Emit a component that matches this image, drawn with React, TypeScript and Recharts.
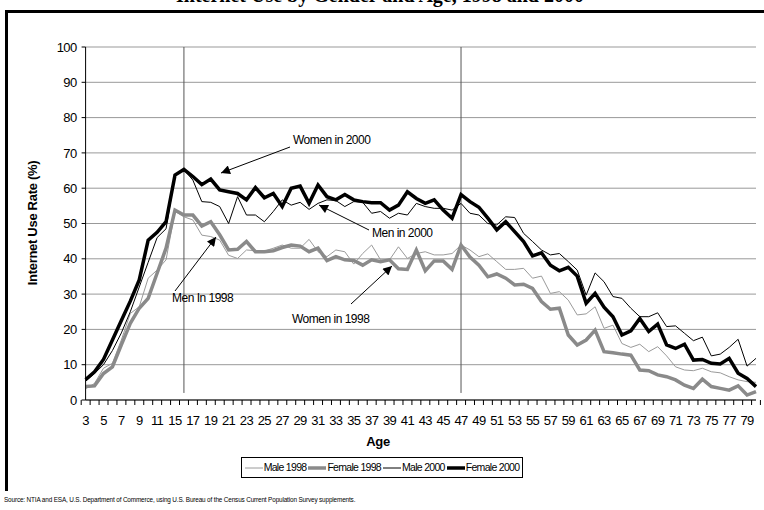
import React from "react";
import {
	LineChart,
	Line,
	XAxis,
	YAxis,
	CartesianGrid,
	ReferenceLine,
} from "recharts";

// category ages (index 9 carries no label on the original axis)
const ages = [
	"3", "4", "5", "6", "7", "8", "9", "10", "11", "13",
	"15", "16", "17", "18", "19", "20", "21", "22", "23", "24",
	"25", "26", "27", "28", "29", "30", "31", "32", "33", "34",
	"35", "36", "37", "38", "39", "40", "41", "42", "43", "44",
	"45", "46", "47", "48", "49", "50", "51", "52", "53", "54",
	"55", "56", "57", "58", "59", "60", "61", "62", "63", "64",
	"65", "66", "67", "68", "69", "70", "71", "72", "73", "74",
	"75", "76", "77", "78", "79", "80",
];

const male1998 = [
	3.2, 4.7, 9, 10.4, 17, 24.5, 26.4, 34.5, 36.8, 39.7,
	53.4, 51.9, 51, 46.7, 46.3, 45.3, 41, 40.1, 42.5, 42.3,
	42.2, 43, 43.9, 43, 43, 45.5, 42, 40.6, 42.5, 42,
	38.5, 41.5, 43.9, 39.7, 39.7, 43.4, 40.1, 41.5, 42, 41.1,
	41.1, 41.5, 43.9, 42.5, 40.6, 41.4, 39.2, 37, 37, 37.3,
	34.5, 35.1, 30.2, 30.7, 28.3, 24.1, 24.4, 26.4, 20.3, 21.2,
	16, 14.9, 15.8, 13.7, 15.1, 12.5, 9.4, 8.5, 8.3, 9,
	8, 7.7, 6.6, 5.7, 5.2, 5,
];

const female1998 = [
	3.8, 4, 7.5, 9.4, 15.6, 21.7, 26, 28.8, 35.9, 43,
	53.8, 52.4, 52.4, 49.3, 50.5, 46.8, 42.5, 42.7, 44.9, 42,
	42, 42.3, 43.2, 43.9, 43.6, 42, 43, 39.5, 40.6, 39.7,
	39.5, 38.2, 39.7, 39.2, 39.7, 37.2, 37, 42.5, 36.6, 39.4,
	39.4, 37, 43.9, 40.5, 38.2, 34.9, 35.7, 34.5, 32.6, 32.8,
	31.6, 27.9, 25.7, 26, 18.4, 15.6, 17, 19.8, 13.7, 13.4,
	13, 12.7, 8.5, 8.3, 7.1, 6.6, 5.7, 4.2, 3.3, 5.9,
	3.8, 3.3, 2.8, 4, 1.4, 2.4,
];

const male2000 = [
	5.3, 7.5, 10, 14, 19, 25, 32, 39, 46, 48.5,
	63.7, 65.2, 62.3, 56.2, 56, 54.8, 50, 57.6, 52.4, 52.4,
	50.5, 53.4, 56.7, 55.2, 56, 54, 55.7, 56.7, 56.5, 54.8,
	56.2, 56, 52.9, 53.4, 51.5, 52.9, 52.4, 55.7, 54.8, 54.3,
	54.3, 53.8, 55.7, 52.9, 52.4, 50, 49.6, 51.9, 51.7, 47.2,
	44.9, 42.5, 41.1, 41.5, 39.2, 36.8, 29.7, 36, 33.5, 29.3,
	28.8, 26, 23.6, 23.6, 24.7, 20.8, 21, 18.9, 16.8, 17.8,
	12.5, 13, 14.9, 17.2, 9.6, 11.8,
];

const female2000 = [
	5.8, 8, 11.5, 17, 22.5, 28, 34, 45.3, 47.5, 50.5,
	63.7, 65.3, 63.3, 61, 62.6, 59.5, 59, 58.5, 56.7, 60.2,
	57.3, 58.5, 54.8, 60, 60.6, 55.7, 60.9, 57.6, 56.7, 58.2,
	56.7, 56.2, 55.9, 55.9, 53.8, 55.2, 59, 57.1, 55.7, 56.7,
	53.8, 51.5, 58.2, 56.2, 54.6, 51.5, 48.2, 50.5, 47.7, 44.9,
	40.8, 41.7, 38.2, 36.6, 37.6, 35.1, 27.4, 30.2, 26.3, 23.6,
	18.4, 19.6, 23.1, 19.4, 21.5, 15.6, 14.6, 15.8, 11.3, 11.5,
	10.4, 10.2, 11.8, 7.6, 6.1, 3.8,
];

const seriesNames = ["Male 1998", "Female 1998", "Male 2000", "Female 2000"];
const seriesKeys = ["m98", "f98", "m00", "f00"];
const seriesColors = ["#9a9a9a", "#8a8a8a", "#000000", "#000000"];
const seriesWidths = [1, 3.5, 1, 3.5];

const yTicks = [0, 10, 20, 30, 40, 50, 60, 70, 80, 90, 100];
const markerAges = ["16", "47"];

const data = ages.map((age, i) => ({
	age,
	m98: male1998[i],
	f98: female1998[i],
	m00: male2000[i],
	f00: female2000[i],
}));

const PLOT_LEFT = 85.6;
const PLOT_RIGHT = 756;
const BAND = (PLOT_RIGHT - PLOT_LEFT) / ages.length;
const FONT = "'Liberation Sans', Arial, sans-serif";

const AgeTick = (props: any) => {
	const { x, y, payload, index } = props;
	const last = index === ages.length - 1;
	return (
		<g>
			<line x1={x - BAND / 2} x2={x - BAND / 2} y1={y} y2={y + 5} stroke="#000" />
			{last && (
				<line x1={x + BAND / 2} x2={x + BAND / 2} y1={y} y2={y + 5} stroke="#000" />
			)}
			{index % 2 === 0 && (
				<text
					x={x}
					y={y + 25}
					textAnchor="middle"
					fontSize={13}
					letterSpacing={-0.6}
					fill="#000"
					fontFamily={FONT}
				>
					{payload.value}
				</text>
			)}
		</g>
	);
};

const LegendSwatch = ({ color, width }: { color: string; width: number }) => (
	<svg width={18} height={10} style={{ display: "block" }}>
		<line x1={0} x2={18} y1={5} y2={5} stroke={color} strokeWidth={width} />
	</svg>
);

export default function App() {
	return (
		<div
			style={{
				position: "absolute",
				left: 0,
				top: 0,
				width: 764,
				height: 510,
				overflow: "hidden",
				background: "#fff",
				fontFamily: FONT,
			}}
		>
			<LineChart
				width={764}
				height={510}
				data={data}
				margin={{ top: 47, right: 8, bottom: 70, left: 0 }}
				style={{ position: "absolute", left: 0, top: 0 }}
			>
				<CartesianGrid vertical={false} stroke="#999" />
				<XAxis
					dataKey="age"
					interval={0}
					height={40}
					tickSize={0}
					tickMargin={0}
					tickLine={false}
					axisLine={{ stroke: "#000" }}
					tick={<AgeTick />}
				/>
				<YAxis
					domain={[0, 100]}
					ticks={yTicks}
					width={PLOT_LEFT}
					tickSize={4}
					tickMargin={5}
					tickLine={{ stroke: "#000" }}
					axisLine={{ stroke: "#000" }}
					tick={{ fontSize: 13, fill: "#000", fontFamily: FONT, letterSpacing: -0.6 }}
				/>
				<YAxis
					yAxisId="edge"
					orientation="right"
					domain={[0, 100]}
					width={0}
					tick={false}
					tickLine={false}
					axisLine={{ stroke: "#999" }}
				/>
				{markerAges.map((a) => (
					<ReferenceLine
						key={a}
						segment={[
							{ x: a, y: 100 },
							{ x: a, y: 2 },
						]}
						stroke="#555"
						strokeWidth={1}
					/>
				))}
				{seriesKeys.map((k, i) => (
					<Line
						key={k}
						dataKey={k}
						name={seriesNames[i]}
						stroke={seriesColors[i]}
						strokeWidth={seriesWidths[i]}
						dot={false}
						activeDot={false}
						strokeLinejoin="miter"
						isAnimationActive={false}
					/>
				))}
			</LineChart>

			<svg
				width={764}
				height={510}
				style={{ position: "absolute", left: 0, top: 0, pointerEvents: "none" }}
			>
				<defs>
					<marker
						id="arrowhead"
						viewBox="0 0 10 10"
						refX={10}
						refY={5}
						markerWidth={11}
						markerHeight={9}
						markerUnits="userSpaceOnUse"
						orient="auto"
					>
						<path d="M0,0 L10,5 L0,10 z" fill="#000" />
					</marker>
				</defs>
				<text
					x={380}
					y={1.5}
					textAnchor="middle"
					fontFamily="'Liberation Serif', 'Times New Roman', serif"
					fontWeight="bold"
					fontSize={20}
				>
					Internet Use by Gender and Age, 1998 and 2000
				</text>
				{/* outer frame: only top and left edges fall inside the picture */}
				<path d="M6.5,491 L6.5,11.5 L770,11.5" fill="none" stroke="#000" strokeWidth={3} />

				<text
					transform="translate(37,223) rotate(-90)"
					textAnchor="middle"
					fontWeight="bold"
					fontSize={13}
					letterSpacing={-0.3}
				>
					Internet Use Rate (%)
				</text>
				<text x={378} y={446} textAnchor="middle" fontWeight="bold" fontSize={13} letterSpacing={-0.3}>
					Age
				</text>
				<text x={4} y={502} fontSize={6.4} letterSpacing={-0.15}>
					Source: NTIA and ESA, U.S. Department of Commerce, using U.S. Bureau of the Census Current Population Survey supplements.
				</text>

				<g fontSize={12} letterSpacing={-0.5}>
					<text x={293} y={144}>Women in 2000</text>
					<line x1={290} y1={147} x2={221} y2={173} stroke="#000" markerEnd="url(#arrowhead)" />
					<text x={372} y={237}>Men in 2000</text>
					<line x1={369} y1={230} x2={319} y2={205} stroke="#000" markerEnd="url(#arrowhead)" />
					<text x={172} y={302}>Men In 1998</text>
					<line x1={175} y1={291} x2={216} y2={237} stroke="#000" markerEnd="url(#arrowhead)" />
					<text x={292} y={323}>Women in 1998</text>
					<line x1={351} y1={304} x2={392} y2={266} stroke="#000" markerEnd="url(#arrowhead)" />
				</g>
			</svg>

			<div
				style={{
					position: "absolute",
					left: 0,
					top: 457,
					width: 764,
					display: "flex",
					justifyContent: "center",
				}}
			>
				<div
					style={{
						display: "flex",
						alignItems: "center",
						border: "1px solid #000",
						padding: "2px 3px",
						fontSize: 10.5,
						letterSpacing: -0.7,
						lineHeight: "15px",
						gap: 2,
					}}
				>
					{seriesNames.map((n, i) => (
						<div key={n} style={{ display: "flex", alignItems: "center", gap: 1 }}>
							<LegendSwatch color={seriesColors[i]} width={seriesWidths[i]} />
							<span>{n}</span>
						</div>
					))}
				</div>
			</div>
		</div>
	);
}
